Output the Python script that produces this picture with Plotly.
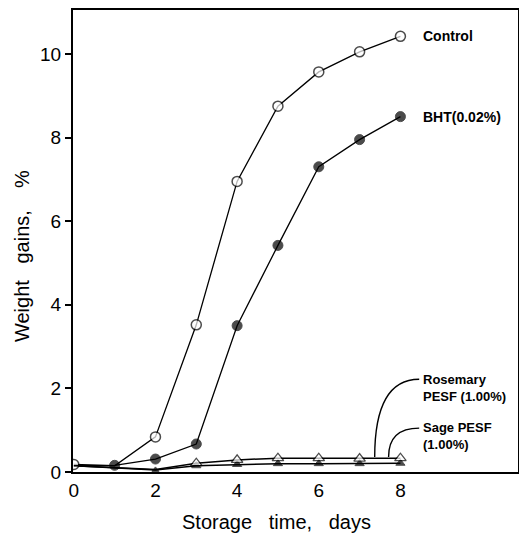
import plotly.graph_objects as go

days = [0, 1, 2, 3, 4, 5, 6, 7, 8]
control = [0.18, 0.15, 0.84, 3.52, 6.95, 8.75, 9.57, 10.05, 10.42]
bht = [0.15, 0.16, 0.31, 0.67, 3.5, 5.42, 7.3, 7.95, 8.5]
rosemary = [0.15, 0.10, 0.06, 0.21, 0.29, 0.33, 0.33, 0.32, 0.33]
sage = [0.15, 0.10, 0.05, 0.15, 0.18, 0.20, 0.20, 0.20, 0.21]

xticks = [0, 2, 4, 6, 8]
yticks = [0, 2, 4, 6, 8, 10]

FONT = "Liberation Sans, Arial, sans-serif"
fig = go.Figure()

fig.add_trace(go.Scatter(x=days, y=sage, mode="lines+markers",
                         line=dict(color="black", width=1.5),
                         marker=dict(symbol="triangle-up", size=[0, 0, 6, 8, 8, 8, 8, 8, 8], color="black",
                                     line=dict(color="black", width=1))))
fig.add_trace(go.Scatter(x=days, y=rosemary, mode="lines+markers",
                         line=dict(color="black", width=1.5),
                         marker=dict(symbol="triangle-up", size=[0, 0, 0, 10, 10, 10, 10, 10, 10], color="white",
                                     line=dict(color="black", width=1.3))))
fig.add_trace(go.Scatter(x=days, y=control, mode="lines+markers",
                         line=dict(color="black", width=1.3),
                         marker=dict(symbol="circle", size=[10, 0, 10, 10, 10, 10, 10, 10, 10], color="white",
                                     line=dict(color="black", width=1.5))))
fig.add_trace(go.Scatter(x=days, y=bht, mode="lines+markers",
                         line=dict(color="black", width=1.3),
                         marker=dict(symbol="circle", size=[0, 10, 10, 10, 10, 10, 10, 10, 10], color="black",
                                     line=dict(color="black", width=1))))

ann_font = dict(family=FONT, size=14, color="black")
annotations = [
    dict(x=8.51, y=10.43, text="<b>Control</b>", xanchor="left", yanchor="middle", showarrow=False, font=ann_font),
    dict(x=8.51, y=8.5, text="<b>BHT(0.02%)</b>", xanchor="left", yanchor="middle", showarrow=False, font=ann_font),
    dict(x=8.51, y=2.45, text="<b>Rosemary<br>PESF (1.00%)</b>", xanchor="left", yanchor="top", showarrow=False,
         font=dict(family=FONT, size=13, color="black"), align="left"),
    dict(x=8.51, y=1.28, text="<b>Sage PESF<br>(1.00%)</b>", xanchor="left", yanchor="top", showarrow=False,
         font=dict(family=FONT, size=13, color="black"), align="left"),
    dict(x=0.458, y=-0.108, xref="paper", yref="paper",
         text="Storage&nbsp;&nbsp;&nbsp;time,&nbsp;&nbsp;&nbsp;days",
         showarrow=False, xanchor="center", yanchor="middle", font=dict(family=FONT, size=20, color="black")),
    dict(x=-0.114, y=0.468, xref="paper", yref="paper", textangle=-90,
         text="Weight&nbsp;&nbsp;&nbsp;gains,&nbsp;&nbsp;&nbsp;&nbsp;%",
         showarrow=False, xanchor="center", yanchor="middle", font=dict(family=FONT, size=20, color="black")),
]

shapes = [
    dict(type="path", xref="x", yref="y", path="M 8.46 2.22 Q 7.37 2.22 7.37 0.36",
         line=dict(color="black", width=1.4)),
    dict(type="path", xref="x", yref="y", path="M 8.46 1.05 Q 7.71 1.05 7.71 0.36",
         line=dict(color="black", width=1.4)),
]

# page body has an 8px default margin; the figure is sized so that the plot lands where the reference has it
fig.update_layout(
    width=511, height=526,
    margin=dict(l=65, r=1, t=2, b=62),
    paper_bgcolor="white", plot_bgcolor="white",
    showlegend=False,
    annotations=annotations, shapes=shapes,
    font=dict(family=FONT, size=16, color="black"),
    xaxis=dict(range=[-0.02, 10.88], tickvals=xticks, ticks="", showgrid=False, zeroline=False,
               showline=True, linecolor="black", linewidth=2, mirror=True, automargin=False,
               tickfont=dict(family=FONT, size=19)),
    yaxis=dict(range=[0, 11.05], tickvals=yticks, ticks="outside", ticklen=6, tickcolor="black", tickwidth=1.5,
               showgrid=False, zeroline=False, showline=True, linecolor="black", linewidth=2, mirror=True,
               automargin=False, tickfont=dict(family=FONT, size=19)),
)

fig.write_html("out.html")
